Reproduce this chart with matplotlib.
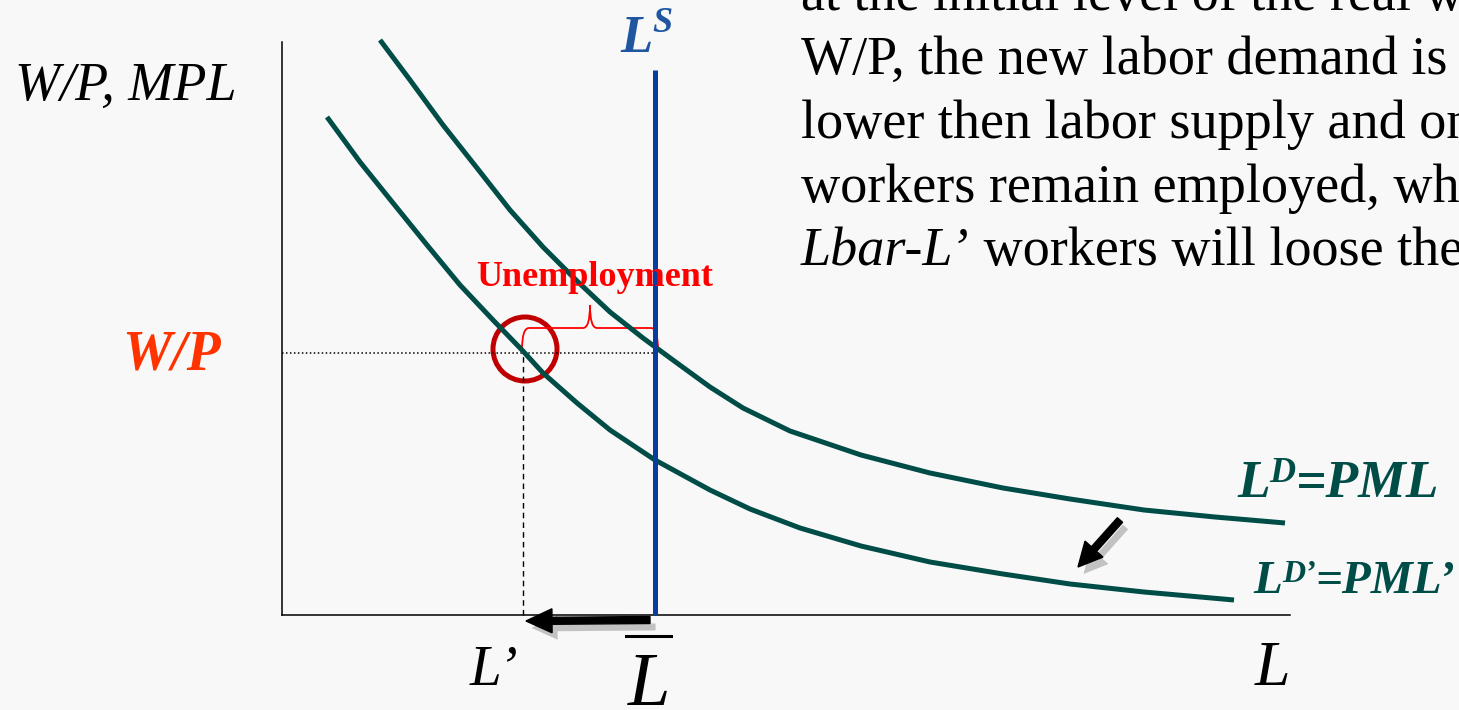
import matplotlib
matplotlib.use('Agg')
import matplotlib.pyplot as plt
import matplotlib.patheffects as pe
from matplotlib.patches import Circle, PathPatch
from matplotlib.path import Path

# --- diagram data (units: pixels from the origin of the L / W/P axes) ---
ld_x = [98, 128, 161, 195, 228, 261, 295, 328, 361, 395, 428, 461, 508,
        579, 648, 721, 788, 862, 933, 1003]
ld_y = [575, 535, 490, 447, 405, 368, 334, 303, 277, 252, 228, 207, 184,
        160, 142, 127, 116, 105, 98, 92]

ld2_x = [45, 78, 111, 145, 178, 211, 240, 261, 295, 328, 373, 395, 428, 468,
         518, 579, 648, 721, 788, 862, 952]
ld2_y = [498, 453, 412, 370, 330, 295, 265, 242, 212, 185, 155, 143, 125, 106,
         87, 69, 53, 41, 31, 23, 15]

wage = 262        # real wage W/P
l_bar = 373       # labour supply L-bar
l_prime = 241     # employment at new demand L'
ls_top = 545
y_axis_top = 573
x_axis_end = 1008

body_lines = [
    'at the initial level of the real wage',
    'W/P, the new labor demand is',
    'lower then labor supply and only L’',
    'workers remain employed, while',
]
last_italic = 'Lbar-L’'
last_rest = ' workers will loose their jobs'

TEAL = '#004d48'
BLUE = '#0a3ca0'
BG = '#f8f8f8'

plt.rcParams['font.family'] = ['Liberation Serif', 'DejaVu Serif']

fig = plt.figure(figsize=(14.59, 7.10), dpi=100, facecolor=BG)
ax = fig.add_axes([0, 0, 1, 1])
ax.set_xlim(-282, 1177)
ax.set_ylim(-95, 615)
ax.axis('off')
ax.set_facecolor(BG)
renderer = fig.canvas.get_renderer()


def draw_parts(x, y, parts, **style):
    """Write text pieces one after another: (text, size, rise)."""
    for s, size, rise in parts:
        t = ax.text(x, y + rise, s, fontsize=size, ha='left', va='baseline', **style)
        x += t.get_window_extent(renderer).width
    return x


# axes
ax.plot([0, 0], [0, y_axis_top], color='black', lw=1.1)
ax.plot([0, x_axis_end], [0, 0], color='black', lw=1.1)

# reference lines
ax.plot([0, l_bar], [wage, wage], color='black', lw=1.1, linestyle=(0, (1, 1.6)))
ax.plot([l_prime, l_prime], [0, wage], color='black', lw=1.0, linestyle=(0, (4, 3)))

# labour demand curves and supply
ax.plot(ld_x, ld_y, color=TEAL, lw=3.6, solid_capstyle='butt', solid_joinstyle='round')
ax.plot(ld2_x, ld2_y, color=TEAL, lw=3.6, solid_capstyle='butt', solid_joinstyle='round')
ax.plot([l_bar, l_bar], [0, ls_top], color=BLUE, lw=3.6, solid_capstyle='butt')

# circle at the new employment point
ax.add_patch(Circle((l_prime + 2, wage + 4), 32, fill=False, ec='#c00000', lw=3.6))

# unemployment brace
x0, x1 = l_prime - 1, l_bar + 3
y0, h, tip, r = wage + 3, 22, 23, 7
xm = (x0 + x1) / 2
verts = [(x0, y0), (x0, y0 + h), (x0 + r, y0 + h),
         (xm - r, y0 + h), (xm, y0 + h), (xm, y0 + h + tip),
         (xm, y0 + h), (xm + r, y0 + h),
         (x1 - r, y0 + h), (x1, y0 + h), (x1, y0)]
codes = [Path.MOVETO, Path.CURVE3, Path.CURVE3,
         Path.LINETO, Path.CURVE3, Path.CURVE3,
         Path.CURVE3, Path.CURVE3,
         Path.LINETO, Path.CURVE3, Path.CURVE3]
ax.add_patch(PathPatch(Path(verts, codes), fill=False, ec='#ff0000', lw=1.3))
ax.text(313, 329, 'Unemployment', color='#ff0000', fontsize=26,
        fontweight='bold', ha='center', va='baseline')

# arrows
shadow = [pe.withSimplePatchShadow(offset=(4, -5), shadow_rgbFace='0.45', alpha=0.4)]
ax.arrow(l_bar - 5, -5, l_prime + 3 - (l_bar - 5), -1, width=7, head_width=24,
         head_length=26, length_includes_head=True, fc='black', ec='black',
         path_effects=shadow)
ax.arrow(838, 95, -42, -47, width=7, head_width=24, head_length=24,
         length_includes_head=True, fc='black', ec='black', path_effects=shadow)

# axis labels
ax.text(-267, 515, 'W/P, MPL', fontsize=39, style='italic', ha='left', va='baseline')
ax.text(-160, 245, 'W/P', fontsize=40, style='italic', fontweight='bold',
        color='#ff3300', ha='left', va='baseline')
ax.text(188, -70, 'L’', fontsize=41, style='italic', ha='left', va='baseline')
ax.text(346, -90, 'L', fontsize=55, style='italic', ha='left', va='baseline')
ax.plot([344, 389], [-21, -21], color='black', lw=2.2)
ax.text(973, -70, 'L', fontsize=46, style='italic', ha='left', va='baseline')

bold_it = dict(style='italic', fontweight='bold')
draw_parts(338, 563, [('L', 38, 0), ('S', 26, 20)], color='#1f56a0', **bold_it)
draw_parts(955, 118, [('L', 38.5, 0), ('D', 26, 15), ('=PML', 38.5, 0)], color=TEAL, **bold_it)
draw_parts(971, 22, [('L', 34, 0), ('D’', 23, 11), ('=PML’', 34, 0)], color=TEAL, **bold_it)

# explanatory text on the right
for i, line in enumerate(body_lines):
    ax.text(519, 605 - 64 * i, line, fontsize=39, ha='left', va='baseline')
xa = draw_parts(519, 350, [(last_italic, 39, 0)], style='italic')
ax.text(xa, 350, last_rest, fontsize=39, ha='left', va='baseline')

fig.savefig('out.png', dpi=100, facecolor=BG)
